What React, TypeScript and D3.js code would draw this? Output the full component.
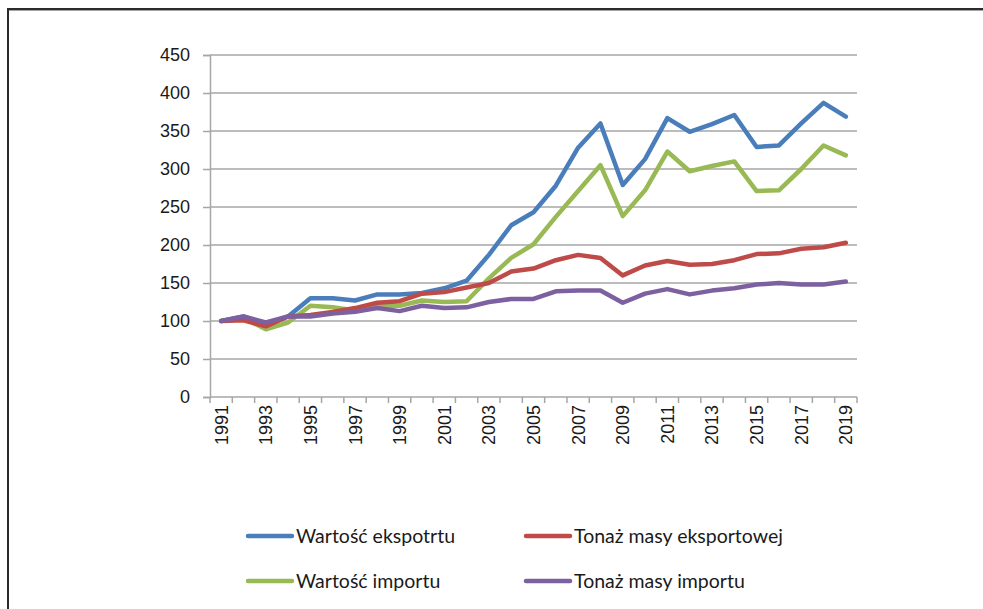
import React, { useEffect, useRef } from 'react';
import * as d3 from 'd3';

const years = d3.range(1991, 2020).map(String);

const exportValue = [100, 106, 96, 106, 130, 130, 127, 135, 135, 137, 143, 153, 187, 226, 243, 278, 328, 360, 279, 313, 367, 349, 359, 371, 329, 331, 360, 387, 369];
const exportTonnage = [100, 101, 93, 106, 108, 112, 117, 124, 126, 136, 138, 144, 150, 165, 169, 180, 187, 183, 160, 173, 179, 174, 175, 180, 188, 189, 195, 197, 203];
const importValue = [100, 104, 89, 98, 120, 118, 114, 120, 120, 127, 125, 126, 156, 183, 201, 237, 271, 305, 238, 272, 323, 297, 304, 310, 271, 272, 300, 331, 318];
const importTonnage = [100, 106, 98, 106, 106, 110, 112, 117, 113, 120, 117, 118, 125, 129, 129, 139, 140, 140, 124, 136, 142, 135, 140, 143, 148, 150, 148, 148, 152];

const yTicks = [0, 50, 100, 150, 200, 250, 300, 350, 400, 450];

const series = [
  { name: 'Wartość ekspotrtu', values: exportValue, color: '#4a7ebb' },
  { name: 'Tonaż masy eksportowej', values: exportTonnage, color: '#be4b48' },
  { name: 'Wartość importu', values: importValue, color: '#98b954' },
  { name: 'Tonaż masy importu', values: importTonnage, color: '#7d60a0' },
];

// draw order in the picture: red and purple sit over blue/green at the start
const drawOrder = [0, 2, 1, 3];

const W = 983;
const H = 609;

function drawChart(container: SVGSVGElement) {
  const svg = d3.select(container);
  svg.selectAll('*').remove();

  // frame: only top and left edges visible
  svg.append('line').attr('x1', 7).attr('x2', W).attr('y1', 9).attr('y2', 9)
    .attr('stroke', '#2b2b2b').attr('stroke-width', 2);
  svg.append('line').attr('x1', 7).attr('x2', W).attr('y1', 10.5).attr('y2', 10.5)
    .attr('stroke', '#a6a6a6').attr('stroke-width', 1);
  svg.append('line').attr('x1', 8).attr('x2', 8).attr('y1', 8).attr('y2', H)
    .attr('stroke', '#2b2b2b').attr('stroke-width', 2);

  const left = 210, right = 857, top = 55, bottom = 397;

  const x = d3.scaleBand().domain(years).range([left, right]);
  const y = d3.scaleLinear().domain([0, 450]).range([bottom, top]);

  // horizontal gridlines
  svg.append('g').selectAll('line')
    .data(yTicks.filter(d => d > 0))
    .enter().append('line')
    .attr('x1', left).attr('x2', right)
    .attr('y1', d => y(d)).attr('y2', d => y(d))
    .attr('stroke', '#a6a6a6').attr('stroke-width', 1.5);

  // y axis
  const yAxis = svg.append('g')
    .attr('transform', `translate(${left},0)`)
    .call(d3.axisLeft(y).tickValues(yTicks).tickSize(7).tickPadding(13));
  yAxis.select('.domain').attr('stroke', '#a6a6a6').attr('stroke-width', 1.5);
  yAxis.selectAll('.tick line').attr('stroke', '#a6a6a6').attr('stroke-width', 1.5);
  yAxis.selectAll('.tick text')
    .attr('fill', '#1a1a1a')
    .style('font-family', '"Liberation Sans", Arial, sans-serif')
    .style('font-size', '18px');

  // x axis: line + ticks at band boundaries
  svg.append('line').attr('x1', left).attr('x2', right).attr('y1', bottom).attr('y2', bottom)
    .attr('stroke', '#a6a6a6').attr('stroke-width', 1.5);
  const bounds = years.map(d => x(d) as number).concat([right]);
  svg.append('g').selectAll('line')
    .data(bounds)
    .enter().append('line')
    .attr('x1', d => d).attr('x2', d => d)
    .attr('y1', bottom).attr('y2', bottom + 6)
    .attr('stroke', '#a6a6a6').attr('stroke-width', 1.5);

  svg.append('g').selectAll('text')
    .data(years.filter((d, i) => i % 2 === 0))
    .enter().append('text')
    .attr('transform', d => `translate(${(x(d) as number) + x.bandwidth() / 2 + 6.5},${bottom + 8}) rotate(-90)`)
    .attr('text-anchor', 'end')
    .attr('fill', '#1a1a1a')
    .style('font-family', '"Liberation Sans", Arial, sans-serif')
    .style('font-size', '18px')
    .text(d => d);

  // lines
  const line = d3.line<number>()
    .x((d, i) => (x(years[i]) as number) + x.bandwidth() / 2)
    .y(d => y(d));

  drawOrder.forEach(k => {
    const s = series[k];
    svg.append('path')
      .datum(s.values)
      .attr('fill', 'none')
      .attr('stroke', s.color)
      .attr('stroke-width', 4.5)
      .attr('stroke-linejoin', 'round')
      .attr('stroke-linecap', 'round')
      .attr('d', line);
  });

  // legend, 2 columns x 2 rows
  const legendX = [248, 526];
  const legendY = [536, 581];
  series.forEach((s, i) => {
    const lx = legendX[i % 2];
    const ly = legendY[Math.floor(i / 2)];
    const g = svg.append('g');
    g.append('line')
      .attr('x1', lx).attr('x2', lx + 44)
      .attr('y1', ly).attr('y2', ly)
      .attr('stroke', s.color).attr('stroke-width', 4.5)
      .attr('stroke-linecap', 'round');
    g.append('text')
      .attr('x', lx + 48).attr('y', ly)
      .attr('dy', '0.35em')
      .attr('fill', '#1a1a1a')
      .style('font-family', 'Lato, "Noto Sans", sans-serif')
      .style('font-size', '19.5px')
      .text(s.name);
  });
}

const App = () => {
  const ref = useRef<SVGSVGElement>(null);

  useEffect(() => {
    if (ref.current) drawChart(ref.current);
  }, []);

  return (
    <svg
      ref={ref}
      width={W}
      height={H}
      style={{ position: 'fixed', left: 0, top: 0, background: '#fff' }}
    />
  );
};

export default App;
